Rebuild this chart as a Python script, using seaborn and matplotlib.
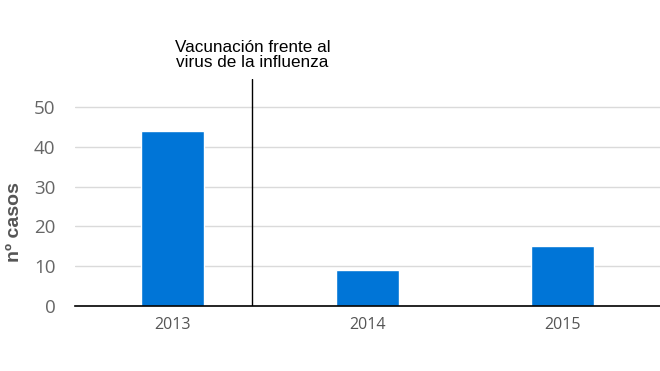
import matplotlib
matplotlib.use('Agg')
import pandas as pd
import seaborn as sns
import matplotlib.pyplot as plt

years = ['2013', '2014', '2015']
cases = [44, 9, 15]
y_ticks = [0, 10, 20, 30, 40, 50]
note = 'Vacunación frente al\nvirus de la influenza'

df = pd.DataFrame({'year': years, 'cases': cases})

sns.set_style('white')
plt.rcParams['font.family'] = ['Liberation Sans', 'DejaVu Sans']

fig = plt.figure(figsize=(6.6, 3.71), dpi=100)
ax = fig.add_axes([0.1136, 0.175, 0.8864, 0.612])

sns.barplot(x='year', y='cases', data=df, color='#0075d7', width=0.32,
            saturation=1, ax=ax)

ax.set_xlim(-0.5, 2.5)
ax.set_ylim(0, 57)
ax.set_yticks(y_ticks)
ax.yaxis.grid(True, color='#dadada', linewidth=1)
ax.set_axisbelow(True)
for side in ['top', 'right', 'left']:
    ax.spines[side].set_visible(False)
ax.spines['bottom'].set_color('black')
ax.spines['bottom'].set_linewidth(1.2)
ax.tick_params(axis='both', length=0, labelsize=11.5, labelcolor='#555555', pad=8)
for lbl in ax.get_xticklabels() + ax.get_yticklabels():
    lbl.set_fontfamily(['Open Sans', 'DejaVu Sans'])
ax.tick_params(axis='y', labelsize=13.5, labelcolor='#666666', pad=14)

ax.set_xlabel('')
ax.set_ylabel('nº casos', fontsize=14, fontweight='bold', color='#555555')
ax.yaxis.set_label_coords(-0.088, 0.37)

# vaccination marker between 2013 and 2014
ax.axvline(0.41, color='black', linewidth=1)
ax.text(0.41, 1.04, note, transform=ax.get_xaxis_transform(), ha='center',
        va='bottom', fontsize=12.3, color='black', linespacing=1.0)

fig.savefig('out.png', dpi=100)
